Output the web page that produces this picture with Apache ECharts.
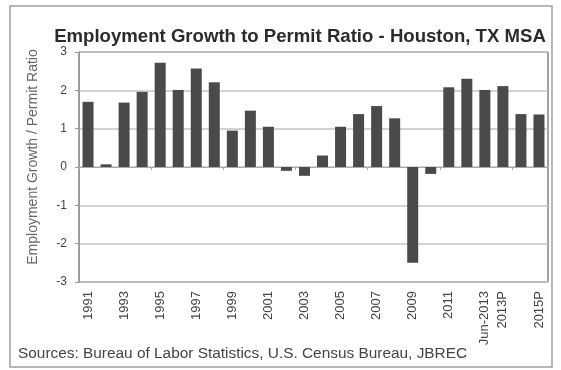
<!DOCTYPE html>
<html>
<head>
<meta charset="utf-8">
<script src="https://cdn.jsdelivr.net/npm/echarts@6/dist/echarts.min.js"></script>
<style>
  html, body { margin: 0; padding: 0; background: #fff; }
  #chart { width: 561px; height: 370px; }
</style>
</head>
<body>
<div id="chart"></div>
<script>
const years = ['1991', '1992', '1993', '1994', '1995', '1996', '1997', '1998', '1999', '2000',
  '2001', '2002', '2003', '2004', '2005', '2006', '2007', '2008', '2009', '2010',
  '2011', '2012', 'Jun-2013', '2013P', '2014P', '2015P']
const ratio = [1.70, 0.07, 1.68, 1.96, 2.72, 2.01, 2.57, 2.21, 0.95, 1.47,
  1.05, -0.10, -0.23, 0.30, 1.05, 1.38, 1.59, 1.27, -2.50, -0.18,
  2.08, 2.30, 2.01, 2.11, 1.38, 1.37]
// labels the original shows under the axis
const shownLabels = ['1991', '1993', '1995', '1997', '1999', '2001', '2003', '2005',
  '2007', '2009', '2011', 'Jun-2013', '2013P', '2015P']

const chart = echarts.init(document.getElementById('chart'))

chart.setOption({
  backgroundColor: '#fff',
  animation: false,
  title: {
    text: 'Employment Growth to Permit Ratio - Houston, TX MSA',
    left: 295,
    textAlign: 'center',
    top: 22,
    textStyle: {
      fontFamily: 'Liberation Sans',
      fontSize: 18.6,
      fontWeight: 'bold',
      color: '#2b2b2b'
    }
  },
  graphic: [
    {
      type: 'rect',
      shape: { x: 10, y: 6, width: 542, height: 361 },
      style: { fill: 'none', stroke: '#a0a0a0', lineWidth: 1.5 }
    },
    {
      type: 'text',
      left: 18,
      top: 346,
      style: {
        text: 'Sources: Bureau of Labor Statistics, U.S. Census Bureau, JBREC',
        font: '15.4px "Liberation Sans"',
        fill: '#444'
      }
    }
  ],
  grid: {
    left: 79,
    right: 13,
    top: 52,
    bottom: 88,
    show: true,
    borderColor: '#444',
    borderWidth: 1
  },
  xAxis: [
    {
      type: 'category',
      data: years,
      position: 'bottom',
      axisLine: { onZero: false, show: false },
      axisTick: { show: false },
      axisLabel: {
        interval: 0,
        rotate: 90,
        margin: 9,
        fontFamily: 'Liberation Sans',
        fontSize: 13,
        color: '#444',
        formatter: v => shownLabels.includes(v) ? v : ''
      }
    },
    {
      type: 'category',
      data: years,
      position: 'bottom',
      axisLine: { onZero: true, lineStyle: { color: '#aaa', width: 1 } },
      axisTick: { show: true, length: 3, lineStyle: { color: '#aaa' } },
      axisLabel: { show: false }
    }
  ],
  yAxis: {
    type: 'value',
    min: -3,
    max: 3,
    interval: 1,
    name: 'Employment Growth / Permit Ratio',
    nameLocation: 'middle',
    nameGap: 39,
    nameTextStyle: {
      fontFamily: 'Liberation Sans',
      fontSize: 14,
      color: '#666',
      padding: [0, 0, 0, 20]
    },
    axisLine: { show: true, lineStyle: { color: '#999' } },
    axisTick: { show: true, length: 4, lineStyle: { color: '#999' } },
    axisLabel: {
      margin: 12,
      fontFamily: 'Liberation Sans',
      fontSize: 12,
      color: '#444'
    },
    splitLine: { lineStyle: { color: '#c4c4c4', width: 1.5 } }
  },
  series: [
    {
      name: 'Ratio',
      type: 'bar',
      xAxisIndex: 0,
      barWidth: 11,
      data: ratio,
      itemStyle: { color: '#4a4a4a' }
    }
  ]
})
</script>
</body>
</html>
